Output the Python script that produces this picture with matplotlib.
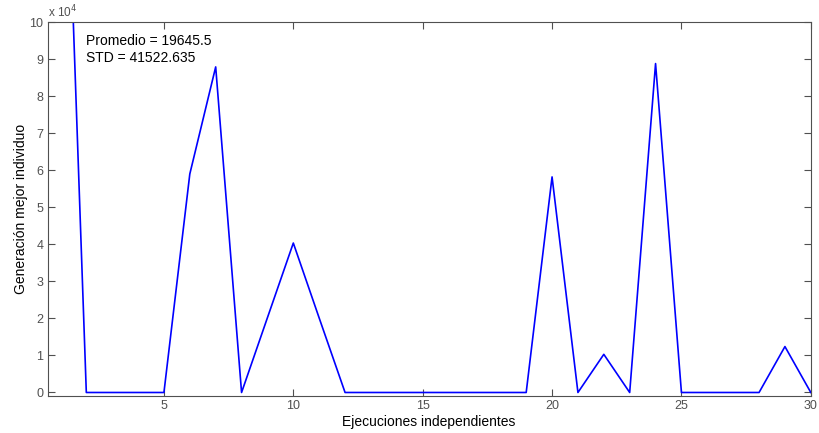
import matplotlib
matplotlib.use("Agg")
import matplotlib.pyplot as plt
from matplotlib.ticker import FuncFormatter

plt.rcParams['font.family'] = ['Liberation Sans', 'DejaVu Sans']

runs = list(range(1, 31))
generation = [199000, 0, 0, 0, 0, 59000, 87900, 0, 20200, 40350,
              20100, 0, 0, 0, 0, 0, 0, 0, 0, 58200,
              0, 10300, 0, 88800, 0, 0, 0, 0, 12400, 0]
xticks = [5, 10, 15, 20, 25, 30]
yticks = [0, 10000, 20000, 30000, 40000, 50000, 60000, 70000, 80000, 90000, 100000]
stats_text = "Promedio = 19645.5\nSTD = 41522.635"

fig = plt.figure(figsize=(8.19, 4.33), dpi=100)
ax = fig.add_axes([0.058, 0.085, 0.932, 0.864])
ax.plot(runs, generation, color='#0000ff', linewidth=1.2)
ax.set_xlim(0.5, 30)
ax.set_ylim(-1000, 100000)
ax.set_xticks(xticks)
ax.set_yticks(yticks)
ax.yaxis.set_major_formatter(FuncFormatter(lambda v, p: f"{v/1e4:g}"))
gray = '#505050'
ax.tick_params(direction='in', top=True, right=True, length=5, width=0.8,
               colors=gray, labelsize=9, pad=3)
for s in ax.spines.values():
    s.set_color(gray)
    s.set_linewidth(0.8)
ax.set_xlabel("Ejecuciones independientes", fontsize=10, labelpad=2)
ax.set_ylabel("Generación mejor individuo", fontsize=10, labelpad=1)
ax.text(0.0, 1.005, r"x 10$^4$", transform=ax.transAxes, fontsize=8.5,
        color=gray, ha='left', va='bottom')
ax.text(2.0, 96800, stats_text, fontsize=10, ha='left', va='top', linespacing=1.25)
fig.savefig("out.png", dpi=100)
